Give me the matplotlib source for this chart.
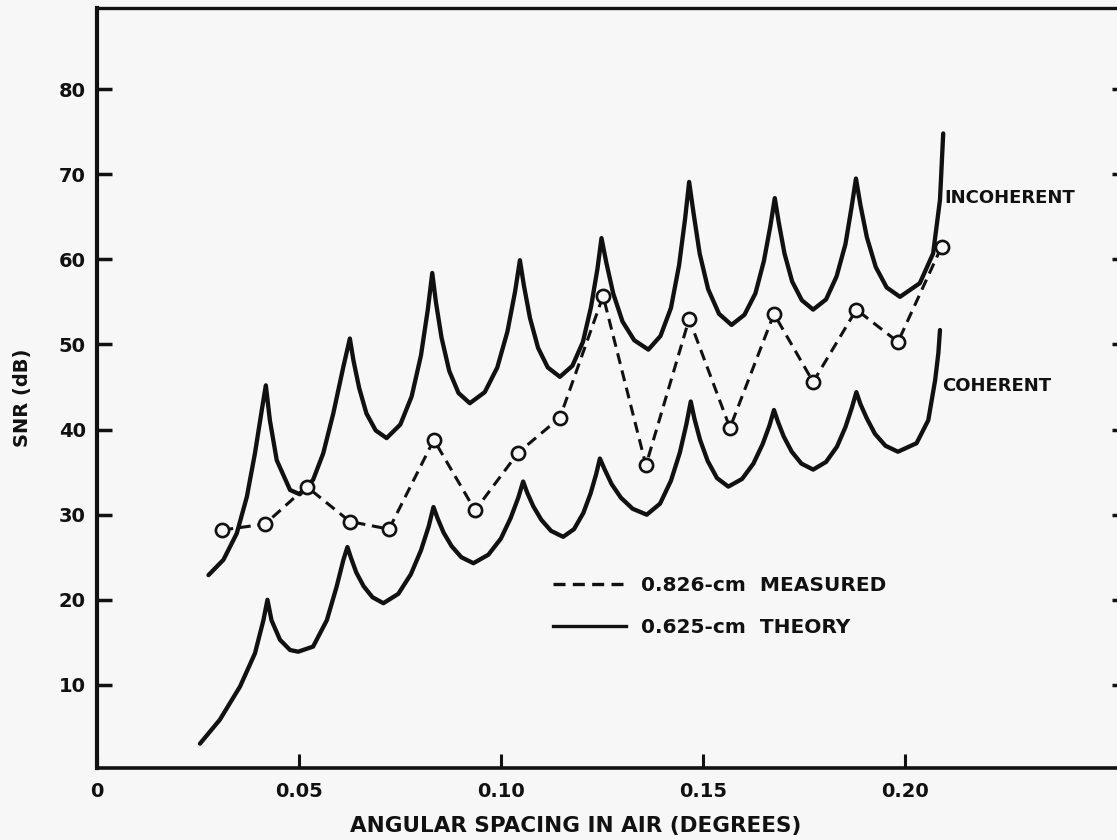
import matplotlib
matplotlib.use("Agg")
import matplotlib.pyplot as plt
from matplotlib.lines import Line2D

# ---- data ----
measured_x = [0.0310, 0.0416, 0.0519, 0.0626, 0.0723, 0.0834, 0.0936, 0.1043, 0.1146,
              0.1253, 0.1359, 0.1466, 0.1567, 0.1676, 0.1773, 0.1880, 0.1983, 0.2091]
measured_y = [28.2, 28.9, 33.3, 29.2, 28.3, 38.8, 30.5, 37.3, 41.4,
              55.7, 35.8, 53.0, 40.2, 53.6, 45.6, 54.1, 50.3, 61.5]

incoh_x = [0.0276, 0.0313, 0.0346, 0.0371, 0.0391, 0.0408, 0.0418,
           0.0428, 0.0445, 0.0478, 0.0502,
           0.0535, 0.0560, 0.0585, 0.0610, 0.0626,
           0.0635, 0.0649, 0.0667, 0.0690, 0.0717,
           0.0751, 0.0779, 0.0802, 0.0819, 0.0830,
           0.0839, 0.0853, 0.0872, 0.0895, 0.0923,
           0.0960, 0.0991, 0.1016, 0.1035, 0.1047,
           0.1057, 0.1072, 0.1092, 0.1116, 0.1146,
           0.1177, 0.1203, 0.1223, 0.1239, 0.1249,
           0.1261, 0.1278, 0.1301, 0.1330, 0.1365,
           0.1395, 0.1421, 0.1441, 0.1456, 0.1466,
           0.1477, 0.1492, 0.1513, 0.1540, 0.1571,
           0.1603, 0.1630, 0.1651, 0.1667, 0.1678,
           0.1688, 0.1702, 0.1721, 0.1745, 0.1773,
           0.1805, 0.1831, 0.1853, 0.1868, 0.1879,
           0.1890, 0.1906, 0.1928, 0.1955, 0.1988,
           0.2037, 0.2070, 0.2087, 0.2095]
incoh_y = [22.9, 24.7, 27.8, 32.1, 37.2, 42.3, 45.2,
           41.1, 36.4, 32.9, 32.4,
           34.1, 37.2, 41.9, 47.4, 50.7,
           48.1, 44.9, 41.9, 39.9, 39.0,
           40.6, 43.9, 48.7, 54.1, 58.4,
           55.0, 50.8, 46.9, 44.3, 43.1,
           44.4, 47.3, 51.5, 56.2, 59.9,
           56.9, 53.1, 49.6, 47.3, 46.2,
           47.5, 50.3, 54.4, 58.9, 62.5,
           59.6, 56.0, 52.7, 50.5, 49.4,
           51.0, 54.3, 59.3, 64.8, 69.1,
           65.4, 60.7, 56.5, 53.6, 52.3,
           53.5, 56.0, 59.8, 63.9, 67.2,
           64.3, 60.7, 57.4, 55.2, 54.1,
           55.3, 58.0, 61.8, 66.1, 69.5,
           66.4, 62.6, 59.1, 56.7, 55.6,
           57.2, 60.7, 67.0, 74.8]

coh_x = [0.0255, 0.0304, 0.0354, 0.0391, 0.0412, 0.0422,
         0.0432, 0.0453, 0.0478, 0.0498,
         0.0535, 0.0569, 0.0593, 0.0610, 0.0620,
         0.0629, 0.0642, 0.0660, 0.0682, 0.0709,
         0.0746, 0.0777, 0.0802, 0.0821, 0.0833,
         0.0843, 0.0858, 0.0878, 0.0902, 0.0932,
         0.0969, 0.1000, 0.1024, 0.1043, 0.1055,
         0.1065, 0.1080, 0.1100, 0.1124, 0.1154,
         0.1181, 0.1204, 0.1222, 0.1236, 0.1245,
         0.1257, 0.1274, 0.1297, 0.1326, 0.1361,
         0.1394, 0.1421, 0.1443, 0.1459, 0.1470,
         0.1479, 0.1493, 0.1512, 0.1535, 0.1563,
         0.1597, 0.1625, 0.1648, 0.1665, 0.1676,
         0.1686, 0.1700, 0.1720, 0.1744, 0.1773,
         0.1805, 0.1832, 0.1853, 0.1869, 0.1880,
         0.1890, 0.1906, 0.1926, 0.1952, 0.1983,
         0.2029, 0.2058, 0.2075, 0.2083, 0.2087]
coh_y = [3.1, 5.9, 9.8, 13.7, 17.6, 20.0,
         17.6, 15.3, 14.1, 13.9,
         14.5, 17.6, 21.5, 24.7, 26.2,
         24.9, 23.2, 21.6, 20.3, 19.6,
         20.7, 23.0, 25.8, 28.6, 30.9,
         29.6, 27.9, 26.3, 25.0, 24.3,
         25.3, 27.2, 29.6, 32.0, 33.9,
         32.6, 31.0, 29.4, 28.1, 27.4,
         28.3, 30.2, 32.5, 34.8, 36.6,
         35.3, 33.6, 32.0, 30.7, 30.0,
         31.3, 34.0, 37.3, 40.6, 43.3,
         41.3, 38.8, 36.3, 34.3, 33.3,
         34.2, 36.0, 38.3, 40.5, 42.3,
         40.9, 39.2, 37.4, 36.0, 35.3,
         36.2, 38.0, 40.3, 42.6, 44.4,
         43.0, 41.3, 39.5, 38.1, 37.4,
         38.4, 41.1, 45.8, 49.0, 51.7]

x_ticks = [0, 0.05, 0.10, 0.15, 0.20]
x_tick_labels = ["0", "0.05", "0.10", "0.15", "0.20"]
y_ticks = [10, 20, 30, 40, 50, 60, 70, 80]
y_tick_labels = ["10", "20", "30", "40", "50", "60", "70", "80"]

# ---- figure ----
INK = "#111111"
BG = "#f7f7f7"
plt.rcParams["font.family"] = ["DejaVu Sans"]
plt.rcParams["font.weight"] = "bold"

fig = plt.figure(figsize=(11.17, 8.40), dpi=100, facecolor=BG)
ax = fig.add_axes([97 / 1117, 72 / 840, 1030 / 1117, 760 / 840], facecolor=BG)
ax.set_xlim(0, 0.255)
ax.set_ylim(0.235, 89.54)

ax.plot(incoh_x, incoh_y, color=INK, lw=3.1, solid_joinstyle="round",
        solid_capstyle="round", zorder=3)
ax.plot(coh_x, coh_y, color=INK, lw=3.1, solid_joinstyle="round",
        solid_capstyle="round", zorder=3)
ax.plot(measured_x, measured_y, color=INK, lw=2.2, ls=(0, (3.6, 2.2)),
        marker="o", ms=9.5, mfc=BG, mec=INK, mew=1.9, zorder=4)

ax.text(0.2099, 67.2, "INCOHERENT", fontsize=13, fontweight="bold",
        color=INK, ha="left", va="center")
ax.text(0.2092, 45.1, "COHERENT", fontsize=13, fontweight="bold",
        color=INK, ha="left", va="center")

handles = [Line2D([], [], color=INK, lw=2.4, ls=(0, (3.6, 2.2))),
           Line2D([], [], color=INK, lw=2.4)]
leg = ax.legend(handles, ["0.826-cm  MEASURED", "0.625-cm  THEORY"],
                loc="upper left", bbox_to_anchor=(0.443, 0.252),
                frameon=False, handlelength=3.6, handletextpad=0.75,
                labelspacing=1.1, borderpad=0, borderaxespad=0,
                prop={"size": 14.5, "weight": "bold"})
for t in leg.get_texts():
    t.set_color(INK)

ax.set_xticks(x_ticks)
ax.set_xticklabels(x_tick_labels)
ax.set_yticks(y_ticks)
ax.set_yticklabels(y_tick_labels)
ax.tick_params(axis="x", direction="in", length=10, width=2.2, pad=10,
               labelsize=14, colors=INK)
ax.tick_params(axis="y", direction="in", length=11, width=2.5, pad=8,
               labelsize=14, colors=INK, right=True)
for lab in ax.get_xticklabels() + ax.get_yticklabels():
    lab.set_fontweight("bold")

for side in ["left", "bottom", "top", "right"]:
    ax.spines[side].set_color(INK)
ax.spines["left"].set_linewidth(3.0)
ax.spines["bottom"].set_linewidth(2.6)
ax.spines["top"].set_linewidth(2.4)
ax.spines["right"].set_linewidth(2.4)

fig.text(576 / 1117, 1 - 826 / 840, "ANGULAR SPACING IN AIR (DEGREES)",
         fontsize=15.5, fontweight="bold", color=INK, ha="center", va="center")
fig.text(23 / 1117, 1 - 398 / 840, "SNR (dB)", rotation=90,
         fontsize=14, fontweight="bold", color=INK, ha="center", va="center")

fig.savefig("out.png", dpi=100, facecolor=BG)
